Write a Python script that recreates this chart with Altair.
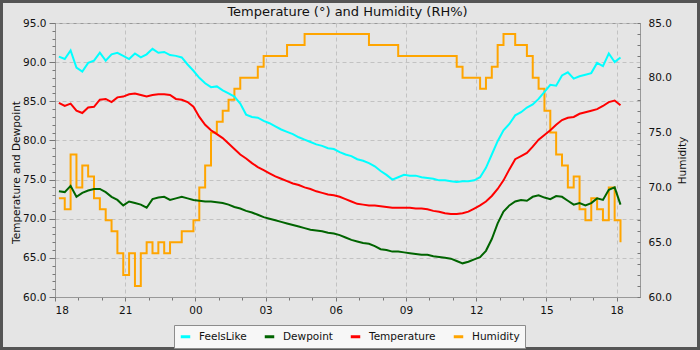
import altair as alt
import pandas as pd

# Readings every 15 minutes, starting 18:10
START = "2024-06-01 18:10"

feels_like = [
    90.7, 90.4, 91.5, 89.3, 88.8, 89.9, 90.2, 91.2, 90.2, 91.0, 91.2, 90.8,
    90.4, 91.1, 90.6, 91.0, 91.7, 91.2, 91.3, 90.9, 90.8, 90.6, 89.7, 88.9,
    88.0, 87.3, 86.8, 86.9, 86.4, 86.0, 85.6, 84.7, 83.3, 83.0, 82.9, 82.5,
    82.2, 81.8, 81.4, 81.1, 80.8, 80.4, 80.1, 79.8, 79.5, 79.3, 79.0, 78.9,
    78.5, 78.2, 78.0, 77.6, 77.4, 77.1, 76.7, 76.1, 75.6, 75.0, 75.3, 75.6,
    75.5, 75.5, 75.3, 75.2, 75.1, 74.9, 74.9, 74.8, 74.7, 74.8, 74.8, 74.9,
    75.3, 76.5, 78.2, 79.9, 81.3, 82.1, 83.2, 83.6, 84.2, 84.6, 85.3, 86.2,
    87.1, 87.0, 88.3, 88.7, 87.9, 88.2, 88.4, 88.6, 89.9, 89.5, 91.1, 90.0,
    90.6,
]

dewpoint = [
    73.5, 73.4, 74.2, 72.8, 73.3, 73.6, 73.8, 73.8, 73.4, 72.8, 72.4, 71.7,
    72.2, 72.0, 71.8, 71.4, 72.5, 72.7, 72.8, 72.4, 72.6, 72.8, 72.6, 72.4,
    72.3, 72.2, 72.2, 72.1, 72.0, 71.8, 71.5, 71.3, 71.0, 70.8, 70.5, 70.2,
    70.0, 69.8, 69.6, 69.4, 69.2, 69.0, 68.8, 68.6, 68.5, 68.4, 68.2, 68.1,
    67.9, 67.6, 67.3, 67.1, 66.9, 66.8, 66.5, 66.1, 66.0, 65.8, 65.8, 65.7,
    65.6, 65.5, 65.4, 65.4, 65.2, 65.1, 65.0, 64.9, 64.6, 64.3, 64.5, 64.8,
    65.1, 65.9, 67.4, 69.4, 70.9, 71.7, 72.2, 72.4, 72.3, 72.8, 73.0, 72.7,
    72.5, 72.9, 72.8, 72.3, 71.8, 72.0, 71.7, 72.0, 72.6, 72.4, 73.7, 74.0,
    71.8,
]

temperature = [
    84.8, 84.4, 84.7, 83.8, 83.5, 84.2, 84.3, 85.2, 85.3, 84.9, 85.5, 85.6,
    85.9, 86.0, 85.8, 85.6, 85.8, 85.9, 85.9, 85.8, 85.3, 85.2, 84.9, 84.3,
    83.0, 82.0, 81.3, 80.8, 80.3, 79.6, 78.9, 78.2, 77.7, 77.1, 76.6, 76.2,
    75.8, 75.4, 75.1, 74.8, 74.5, 74.3, 74.0, 73.8, 73.5, 73.3, 73.1, 73.0,
    72.8, 72.5, 72.2, 71.9, 71.8, 71.7, 71.7, 71.6, 71.5, 71.4, 71.4, 71.4,
    71.4, 71.3, 71.3, 71.2, 71.0, 70.9, 70.7, 70.6, 70.6, 70.7, 70.9, 71.3,
    71.7, 72.2, 72.9, 73.8, 74.9, 76.3, 77.6, 78.0, 78.4, 79.2, 80.1, 80.7,
    81.3, 82.0, 82.6, 82.9, 83.0, 83.4, 83.6, 83.8, 84.0, 84.4, 84.9, 85.1,
    84.5,
]

humidity = [
    69, 68, 73, 70, 72, 71, 69, 68, 67, 66, 64, 62,
    64, 61, 64, 65, 64, 65, 64, 65, 65, 66, 66, 67,
    70, 72, 75, 76, 77, 78, 79, 80, 80, 80, 81, 82,
    82, 82, 82, 83, 83, 83, 84, 84, 84, 84, 84, 84,
    84, 84, 84, 84, 84, 83, 83, 83, 83, 83, 82, 82,
    82, 82, 82, 82, 82, 82, 82, 82, 81, 80, 80, 80,
    79, 80, 81, 83, 84, 84, 83, 83, 82, 80, 79, 77,
    75, 73, 72, 70, 71, 68, 67, 69, 68, 67, 70, 67,
    65,
]

series_names = ["FeelsLike", "Dewpoint", "Temperature", "Humidity"]
series_colors = ["#00ffff", "#006400", "#ff0000", "#ffa500"]

times = pd.date_range(START, periods=len(temperature), freq="15min").strftime("%Y-%m-%dT%H:%M:%S")

rows = []
for name, values in zip(series_names, [feels_like, dewpoint, temperature, humidity]):
    for t, v in zip(times, values):
        rows.append({"time": t, "series": name, "value": v})
df = pd.DataFrame(rows)
df_temp = df[df["series"] != "Humidity"]
df_hum = df[df["series"] == "Humidity"]

PLOT_W, PLOT_H = 585, 274
PAD = {"left": 55, "top": 23, "right": 60, "bottom": 53}


def at(day, hour):
    return alt.DateTime(year=2024, month=6, date=day, hours=hour)


x_scale = alt.Scale(domain=[at(1, 18), at(2, 19)], nice=False)
major_hours = [at(1, h) for h in (18, 21)] + [at(2, h) for h in range(0, 19, 3)]
minor_hours = [at(1, h) for h in range(18, 24)] + [at(2, h) for h in range(0, 19)]

color = alt.Color(
    "series:N",
    scale=alt.Scale(domain=series_names, range=series_colors),
    legend=alt.Legend(
        title=None,
        orient="none",
        legendX=119,
        legendY=302,
        direction="horizontal",
        symbolType="stroke",
        symbolStrokeWidth=3,
        symbolSize=90,
        labelFontSize=10.5,
        labelOffset=7,
        columnPadding=11,
        padding=5,
        fillColor="#f7f7f7",
        strokeColor="#8c8c8c",
        cornerRadius=0,
    ),
)

temp_scale = alt.Scale(domain=[60, 95], nice=False, zero=False)
hum_scale = alt.Scale(domain=[60, 85], nice=False, zero=False)

# Humidity on the right-hand scale, drawn underneath
hum_line = alt.Chart(df_hum).mark_line(strokeWidth=2, interpolate="step-after").encode(
    x=alt.X("time:T", scale=x_scale,
            axis=alt.Axis(orient="bottom", values=minor_hours, labels=False, grid=False,
                          domain=False, tickSize=3, title=None)),
    y=alt.Y("value:Q", scale=hum_scale,
            axis=alt.Axis(orient="right", values=list(range(60, 86, 5)), format=".1f",
                          tickSize=0, labelPadding=8, grid=False, title="Humidity",
                          titleAngle=-90, titleBaseline="top", titlePadding=6)),
    color=color,
)

# Temperature, dewpoint and feels-like on the left-hand scale
temp_lines = alt.Chart(df_temp).mark_line(strokeWidth=2).encode(
    x=alt.X("time:T", scale=x_scale,
            axis=alt.Axis(orient="bottom", values=major_hours, format="%H", grid=True,
                          tickSize=4, labelPadding=4, title=None)),
    y=alt.Y("value:Q", scale=temp_scale,
            axis=alt.Axis(orient="left", values=list(range(60, 96, 5)), format=".1f",
                          grid=True, tickSize=6, labelPadding=3,
                          title="Temperature and Dewpoint", titlePadding=1,
                          titleY=149)),
    color=color,
)

# Minor ticks on both value axes
left_minor = alt.Chart(df_temp).mark_line(opacity=0).encode(
    x=alt.X("time:T", scale=x_scale, axis=None),
    y=alt.Y("value:Q", scale=temp_scale,
            axis=alt.Axis(orient="left", values=list(range(60, 96)), labels=False,
                          grid=False, domain=False, tickSize=3, title=None)),
    detail="series:N",
)
right_minor = alt.Chart(df_hum).mark_line(opacity=0).encode(
    x=alt.X("time:T", scale=x_scale, axis=None),
    y=alt.Y("value:Q", scale=hum_scale,
            axis=alt.Axis(orient="left", offset=-PLOT_W, values=list(range(60, 86)),
                          labels=False, grid=False, domain=False, tickSize=3, title=None)),
)

# Dark frame around the whole picture
frame = alt.Chart(pd.DataFrame({"k": [0]})).mark_rect(
    filled=False, stroke="#555555", strokeWidth=3
).encode(
    x=alt.value(-PAD["left"] + 1.5),
    x2=alt.value(PLOT_W + PAD["right"] - 1.5),
    y=alt.value(-PAD["top"] + 1.5),
    y2=alt.value(PLOT_H + PAD["bottom"] - 1.5),
)

chart = (
    alt.layer(hum_line, temp_lines, left_minor, right_minor, frame)
    .resolve_scale(y="independent")
    .resolve_axis(x="independent", y="independent")
    .properties(
        width=PLOT_W,
        height=PLOT_H,
        autosize=alt.AutoSizeParams(type="none"),
        padding=PAD,
        title=alt.Title("Temperature (°) and Humidity (RH%)", offset=-19),
    )
    .configure(background="#e5e5e5", font="DejaVu Sans")
    .configure_view(stroke="#999999", strokeWidth=1, fill="#e5e5e5")
    .configure_axis(
        labelFont="DejaVu Sans",
        labelFontSize=10.5,
        labelColor="#111111",
        titleFont="DejaVu Sans",
        titleFontSize=10.5,
        titleFontWeight="normal",
        titleColor="#111111",
        domainColor="#999999",
        tickColor="#777777",
        gridColor="#c2c2c2",
        gridDash=[4, 3],
        gridOpacity=1,
    )
    .configure_legend(labelFont="DejaVu Sans", labelColor="#111111")
    .configure_title(font="DejaVu Sans", fontSize=13, fontWeight="normal",
                     color="#111111", anchor="middle")
)

chart.save("out.html", embed_options={"renderer": "svg", "actions": False})
